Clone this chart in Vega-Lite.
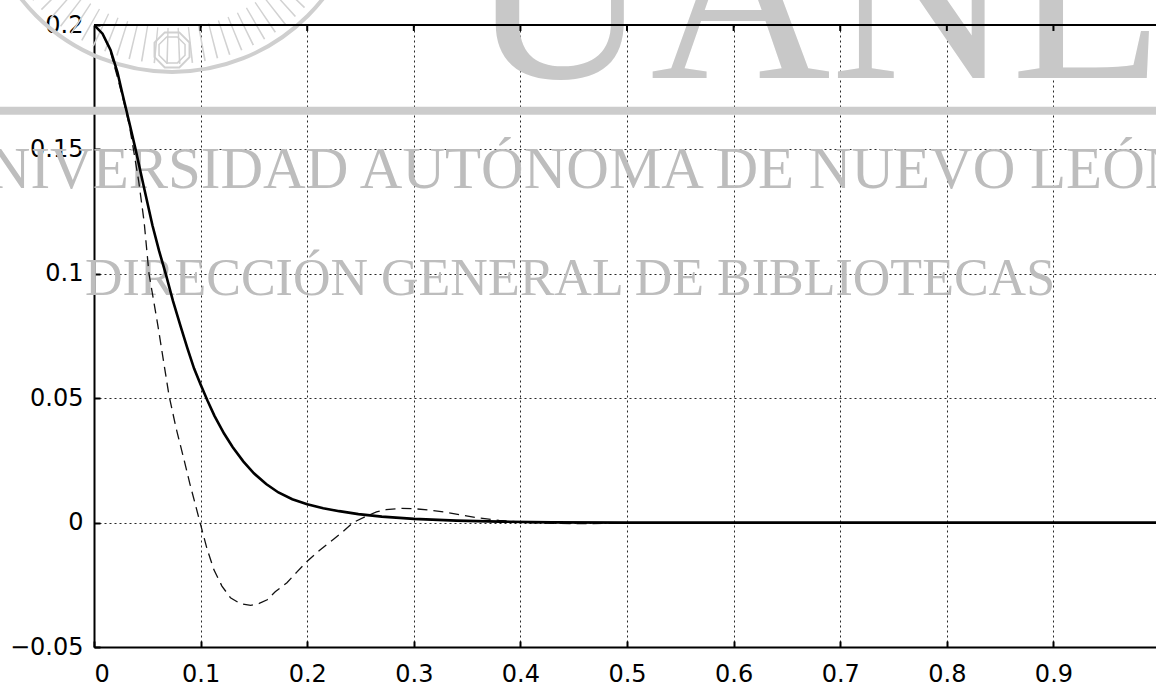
{
  "$schema": "https://vega.github.io/schema/vega-lite/v6.json",
  "width": 1062,
  "height": 622,
  "autosize": {"type": "none"},
  "padding": {"left": 94, "top": 25, "right": 0, "bottom": 38},
  "background": "white",
  "config": {
    "view": {"stroke": null},
    "axis": {
      "domainColor": "black",
      "domainWidth": 2,
      "tickColor": "black",
      "tickWidth": 2,
      "tickSize": -6,
      "labelFont": "DejaVu Sans",
      "labelFontSize": 24,
      "labelColor": "black",
      "gridColor": "#111111",
      "gridDash": [2, 3],
      "gridWidth": 1,
      "gridOpacity": 0.9,
      "title": null,
      "zindex": 1
    }
  },
  "datasets": {
    "curves": [
      {"t": 0, "v": 0.2, "s": "solid"},
      {"t": 0.008, "v": 0.1965, "s": "solid"},
      {"t": 0.0155, "v": 0.19, "s": "solid"},
      {"t": 0.022, "v": 0.181, "s": "solid"},
      {"t": 0.0266, "v": 0.1725, "s": "solid"},
      {"t": 0.033, "v": 0.161, "s": "solid"},
      {"t": 0.039, "v": 0.15, "s": "solid"},
      {"t": 0.047, "v": 0.1345, "s": "solid"},
      {"t": 0.0548, "v": 0.1195, "s": "solid"},
      {"t": 0.061, "v": 0.1093, "s": "solid"},
      {"t": 0.0673, "v": 0.1, "s": "solid"},
      {"t": 0.074, "v": 0.0892, "s": "solid"},
      {"t": 0.0814, "v": 0.0787, "s": "solid"},
      {"t": 0.0875, "v": 0.0702, "s": "solid"},
      {"t": 0.0939, "v": 0.0619, "s": "solid"},
      {"t": 0.1, "v": 0.0555, "s": "solid"},
      {"t": 0.1064, "v": 0.0491, "s": "solid"},
      {"t": 0.113, "v": 0.0429, "s": "solid"},
      {"t": 0.122, "v": 0.0358, "s": "solid"},
      {"t": 0.13, "v": 0.0304, "s": "solid"},
      {"t": 0.14, "v": 0.0246, "s": "solid"},
      {"t": 0.15, "v": 0.0198, "s": "solid"},
      {"t": 0.1615, "v": 0.0155, "s": "solid"},
      {"t": 0.173, "v": 0.0121, "s": "solid"},
      {"t": 0.186, "v": 0.0094, "s": "solid"},
      {"t": 0.2, "v": 0.0074, "s": "solid"},
      {"t": 0.215, "v": 0.0058, "s": "solid"},
      {"t": 0.23, "v": 0.0046, "s": "solid"},
      {"t": 0.248, "v": 0.0034, "s": "solid"},
      {"t": 0.27, "v": 0.0024, "s": "solid"},
      {"t": 0.3, "v": 0.0015, "s": "solid"},
      {"t": 0.34, "v": 0.0008, "s": "solid"},
      {"t": 0.38, "v": 0.0004, "s": "solid"},
      {"t": 0.43, "v": 0.0001, "s": "solid"},
      {"t": 0.5, "v": 0, "s": "solid"},
      {"t": 0.6, "v": 0, "s": "solid"},
      {"t": 0.7, "v": 0, "s": "solid"},
      {"t": 0.8, "v": 0, "s": "solid"},
      {"t": 0.9, "v": 0, "s": "solid"},
      {"t": 1.0, "v": 0, "s": "solid"},
      {"t": 0, "v": 0.2, "s": "dashed"},
      {"t": 0.008, "v": 0.1965, "s": "dashed"},
      {"t": 0.015, "v": 0.19, "s": "dashed"},
      {"t": 0.022, "v": 0.179, "s": "dashed"},
      {"t": 0.028, "v": 0.169, "s": "dashed"},
      {"t": 0.033, "v": 0.16, "s": "dashed"},
      {"t": 0.037, "v": 0.15, "s": "dashed"},
      {"t": 0.042, "v": 0.137, "s": "dashed"},
      {"t": 0.047, "v": 0.121, "s": "dashed"},
      {"t": 0.0516, "v": 0.1, "s": "dashed"},
      {"t": 0.056, "v": 0.089, "s": "dashed"},
      {"t": 0.06, "v": 0.079, "s": "dashed"},
      {"t": 0.065, "v": 0.0655, "s": "dashed"},
      {"t": 0.0704, "v": 0.051, "s": "dashed"},
      {"t": 0.077, "v": 0.038, "s": "dashed"},
      {"t": 0.0845, "v": 0.0252, "s": "dashed"},
      {"t": 0.09, "v": 0.0155, "s": "dashed"},
      {"t": 0.0945, "v": 0.0082, "s": "dashed"},
      {"t": 0.0995, "v": 0, "s": "dashed"},
      {"t": 0.106, "v": -0.0105, "s": "dashed"},
      {"t": 0.1125, "v": -0.019, "s": "dashed"},
      {"t": 0.12, "v": -0.0255, "s": "dashed"},
      {"t": 0.128, "v": -0.0302, "s": "dashed"},
      {"t": 0.137, "v": -0.0325, "s": "dashed"},
      {"t": 0.147, "v": -0.0333, "s": "dashed"},
      {"t": 0.155, "v": -0.0325, "s": "dashed"},
      {"t": 0.1625, "v": -0.031, "s": "dashed"},
      {"t": 0.17, "v": -0.0278, "s": "dashed"},
      {"t": 0.181, "v": -0.0242, "s": "dashed"},
      {"t": 0.19, "v": -0.02, "s": "dashed"},
      {"t": 0.2, "v": -0.0155, "s": "dashed"},
      {"t": 0.212, "v": -0.011, "s": "dashed"},
      {"t": 0.225, "v": -0.0066, "s": "dashed"},
      {"t": 0.233, "v": -0.0038, "s": "dashed"},
      {"t": 0.243, "v": 0, "s": "dashed"},
      {"t": 0.255, "v": 0.0025, "s": "dashed"},
      {"t": 0.265, "v": 0.0043, "s": "dashed"},
      {"t": 0.274, "v": 0.0052, "s": "dashed"},
      {"t": 0.287, "v": 0.0057, "s": "dashed"},
      {"t": 0.3, "v": 0.0056, "s": "dashed"},
      {"t": 0.315, "v": 0.005, "s": "dashed"},
      {"t": 0.33, "v": 0.0042, "s": "dashed"},
      {"t": 0.345, "v": 0.003, "s": "dashed"},
      {"t": 0.36, "v": 0.0019, "s": "dashed"},
      {"t": 0.38, "v": 0.0009, "s": "dashed"},
      {"t": 0.4, "v": 0.0002, "s": "dashed"},
      {"t": 0.42, "v": -0.0002, "s": "dashed"},
      {"t": 0.45, "v": -0.0004, "s": "dashed"},
      {"t": 0.5, "v": -0.0003, "s": "dashed"},
      {"t": 0.55, "v": -0.0001, "s": "dashed"},
      {"t": 0.6, "v": 0, "s": "dashed"},
      {"t": 0.8, "v": 0, "s": "dashed"},
      {"t": 1.0, "v": 0, "s": "dashed"}
    ]
  },
  "layer": [
    {
      "data": {"values": [{"t": 0.0732, "v": 0.2583}]},
      "mark": {"type": "point", "shape": "circle", "filled": false, "size": 110224, "stroke": "#d2d2d2", "strokeWidth": 36, "strokeDash": [1.5, 10], "opacity": 1},
      "encoding": {
        "x": {"field": "t", "type": "quantitative"},
        "y": {"field": "v", "type": "quantitative"}
      }
    },
    {
      "data": {"values": [{"t": 0.0732, "v": 0.2583}]},
      "mark": {"type": "point", "shape": "circle", "filled": false, "size": 147456, "stroke": "#cfcfcf", "strokeWidth": 4, "opacity": 1},
      "encoding": {
        "x": {"field": "t", "type": "quantitative"},
        "y": {"field": "v", "type": "quantitative"}
      }
    },
    {
      "data": {"values": [{"t": 0.0732, "v": 0.19}]},
      "mark": {"type": "point", "shape": "M-1,0.414L-0.414,1L0.414,1L1,0.414L1,-0.414L0.414,-1L-0.414,-1L-1,-0.414Z", "filled": false, "size": 1225, "stroke": "#d0d0d0", "strokeWidth": 2, "opacity": 1},
      "encoding": {
        "x": {"field": "t", "type": "quantitative"},
        "y": {"field": "v", "type": "quantitative"}
      }
    },
    {
      "data": {"values": [{"t": 0.0732, "v": 0.19}]},
      "mark": {"type": "point", "shape": "M-1,0.414L-0.414,1L0.414,1L1,0.414L1,-0.414L0.414,-1L-0.414,-1L-1,-0.414Z", "filled": false, "size": 676, "stroke": "#d0d0d0", "strokeWidth": 1.5, "opacity": 1},
      "encoding": {
        "x": {"field": "t", "type": "quantitative"},
        "y": {"field": "v", "type": "quantitative"}
      }
    },
    {
      "data": {"values": [{"a": -0.1, "b": 1.0, "c": 0.1655}]},
      "mark": {"type": "rule", "color": "#cccccc", "strokeWidth": 8},
      "encoding": {
        "x": {"field": "a", "type": "quantitative"},
        "x2": {"field": "b"},
        "y": {"field": "c", "type": "quantitative"}
      }
    },
    {
      "data": {"values": [{"t": 0.678, "v": 0.1787, "label": "UANL"}]},
      "mark": {"type": "text", "font": "Liberation Serif", "fontSize": 250, "color": "#c8c8c8", "baseline": "alphabetic", "align": "center"},
      "encoding": {
        "x": {"field": "t", "type": "quantitative"},
        "y": {"field": "v", "type": "quantitative"},
        "text": {"field": "label"}
      }
    },
    {
      "data": {"values": [
        {"t": 0.443, "v": 0.1345, "label": "UNIVERSIDAD AUTÓNOMA DE NUEVO LEÓN"}
      ]},
      "mark": {"type": "text", "font": "Liberation Serif", "fontSize": 59, "color": "#bdbdbd", "baseline": "alphabetic", "align": "center"},
      "encoding": {
        "x": {"field": "t", "type": "quantitative"},
        "y": {"field": "v", "type": "quantitative"},
        "text": {"field": "label"}
      }
    },
    {
      "data": {"values": [
        {"t": 0.4465, "v": 0.0915, "label": "DIRECCIÓN GENERAL DE BIBLIOTECAS"}
      ]},
      "mark": {"type": "text", "font": "Liberation Serif", "fontSize": 52, "color": "#bdbdbd", "baseline": "alphabetic", "align": "center"},
      "encoding": {
        "x": {"field": "t", "type": "quantitative"},
        "y": {"field": "v", "type": "quantitative"},
        "text": {"field": "label"}
      }
    },
    {
      "data": {"values": [{}]},
      "mark": {"type": "rule", "color": "black", "strokeWidth": 2},
      "encoding": {
        "y": {"datum": 0.2}
      }
    },
    {
      "data": {"values": [
        {"t": 0.1}, {"t": 0.2}, {"t": 0.3}, {"t": 0.4}, {"t": 0.5},
        {"t": 0.6}, {"t": 0.7}, {"t": 0.8}, {"t": 0.9}
      ]},
      "mark": {"type": "rule", "color": "black", "strokeWidth": 2},
      "encoding": {
        "x": {"field": "t", "type": "quantitative"},
        "y": {"datum": 0.2},
        "y2": {"datum": 0.1976}
      }
    },
    {
      "data": {"name": "curves"},
      "transform": [{"filter": "datum.s == 'dashed'"}],
      "mark": {"type": "line", "color": "#111111", "strokeWidth": 1.3, "strokeDash": [10, 6], "clip": true},
      "encoding": {
        "x": {"field": "t", "type": "quantitative",
          "scale": {"domain": [0, 0.9962], "nice": false, "zero": false},
          "axis": {"values": [0, 0.1, 0.2, 0.3, 0.4, 0.5, 0.6, 0.7, 0.8, 0.9], "format": "~g", "labelPadding": 21.5, "grid": true}},
        "y": {"field": "v", "type": "quantitative",
          "scale": {"domain": [-0.05, 0.2], "nice": false, "zero": false},
          "axis": {"values": [-0.05, 0, 0.05, 0.1, 0.15, 0.2], "format": "~g", "labelPadding": 17, "grid": true}}
      }
    },
    {
      "data": {"name": "curves"},
      "transform": [{"filter": "datum.s == 'solid'"}],
      "mark": {"type": "line", "color": "black", "strokeWidth": 2.6, "clip": true},
      "encoding": {
        "x": {"field": "t", "type": "quantitative"},
        "y": {"field": "v", "type": "quantitative"}
      }
    }
  ]
}
